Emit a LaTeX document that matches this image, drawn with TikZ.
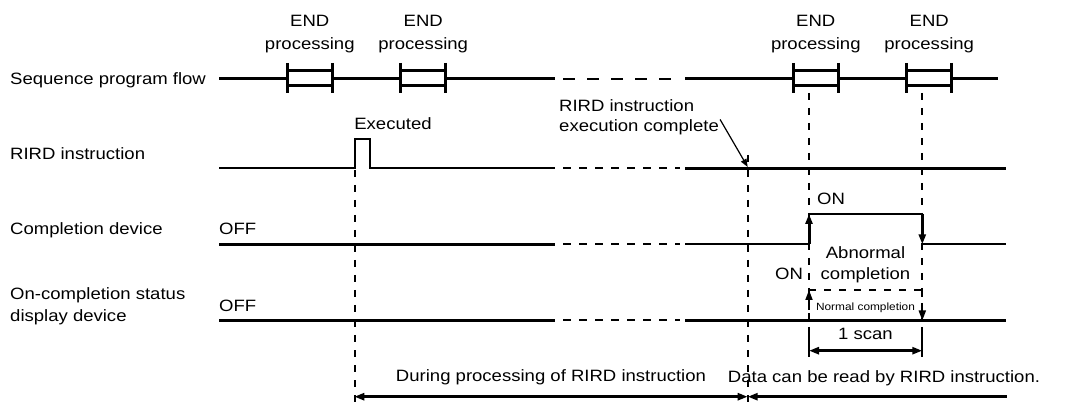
\documentclass[tikz,border=0pt]{standalone}
\usepackage{fontspec}
\setmainfont[FakeStretch=1.13]{Liberation Sans}
\usetikzlibrary{arrows.meta}
\tikzset{sig/.style={line width=3pt},
thinsig/.style={line width=2pt},
gapline/.style={line width=2pt,dash pattern=on 8pt off 8pt},
flowgap/.style={line width=2.5pt,dash pattern=on 12pt off 12pt},
guide/.style={line width=1.8pt,dash pattern=on 7pt off 8pt},
lbl/.style={inner sep=0pt,font=\fontsize{16.4}{21.7}\selectfont},
smalllbl/.style={inner sep=0pt,font=\fontsize{10.5}{12}\selectfont}}
\newcommand{\procblock}[2]{% left edge, name of its label
  \fill[white] (#1,70.7) rectangle (#1+45,86);
  \draw[sig] (#1,70.7) -- (#1+45,70.7) (#1,86) -- (#1+45,86);
  \draw[sig] (#1,63) -- (#1,93) (#1+45,63) -- (#1+45,93);
  \node[lbl,align=center,anchor=base] (#2) at (#1+22.5,50) {END\\[1.3pt]processing};
}

\begin{document}
\begin{tikzpicture}[x=1pt,y=-1pt,>={Triangle[length=10pt,width=7pt]}]
\useasboundingbox (0,0) rectangle (1087,403);
% row names
\node[lbl,anchor=base west] (seqlbl) at (10,85) {Sequence program flow};
\node[lbl,anchor=base west] (rirdlbl) at (10,160) {RIRD instruction};
\node[lbl,anchor=base west] (cmplbl) at (10,235) {Completion device};
\node[lbl,anchor=base west,align=left] (statlbl) at (10,321.7) {On-completion status\\display device};
\node[lbl,anchor=base west] (offA) at (219,235) {OFF};
\node[lbl,anchor=base west] (offB) at (219,312) {OFF};
% guides
\draw[guide] (355,170) -- (355,402);
\draw[guide] (747.7,155) -- (747.7,402);
\draw[guide] (809,93) -- (809,320);
\draw[guide] (922.3,93) -- (922.3,320);
% sequence program flow
\draw[sig] (219,79) -- (555,79) (685,79) -- (997.7,79);
\draw[flowgap] (563,79) -- (680,79);
\procblock{287.3}{endA}
\procblock{400.7}{endB}
\procblock{793.3}{endC}
\procblock{906.7}{endD}
% RIRD instruction
\draw[thinsig] (219,168.3) -- (355,168.3) -- (355,139) -- (370,139) -- (370,168.3) -- (555,168.3);
\draw[gapline] (563,168.3) -- (680,168.3);
\draw[sig] (685,168.3) -- (1006,168.3);
\node[lbl,anchor=base] (exec) at (393,130) {Executed};
\node[lbl,anchor=base west,align=left] (cmptxt) at (559,131.7) {RIRD instruction\\[-1.7pt]execution complete};
\coordinate (rdone) at (747.7,167);
\draw[line width=1.2pt,->,>={Triangle[length=8pt,width=6pt]}] ([xshift=1pt,yshift=-2pt]cmptxt.east) -- (rdone);
% completion device
\draw[sig] (219,244.3) -- (555,244.3);
\draw[gapline] (563,244.3) -- (680,244.3);
\draw[thinsig] (685,244.3) -- (809,244.3) (809,214) -- (922.3,214) (922.3,244.3) -- (1006,244.3);
\draw[sig,->] (809,244.3) -- (809,214);
\draw[sig,->] (922.3,214) -- (922.3,244.3);
\node[lbl,anchor=base west] (onA) at (817,205) {ON};
\node[lbl,anchor=base,align=center] (abn) at (865.5,280) {Abnormal\\completion};
% on-completion status display device
\draw[sig] (219,320.5) -- (555,320.5) (685,320.5) -- (1006,320.5);
\draw[gapline] (563,320.5) -- (680,320.5);
\draw[guide,->] (809,320.5) -- (809,290);
\draw[guide] (809,290) -- (922.3,290);
\draw[guide,->] (922.3,290) -- (922.3,320.5);
\node[lbl,anchor=base west] (onB) at (775,280) {ON};
\node[smalllbl,anchor=base] (norm) at (865.5,310.7) {Normal completion};
% 1 scan
\draw[thinsig] (809,327) -- (809,357) (922.3,327) -- (922.3,357);
\coordinate (scanA) at (809,350.7);
\coordinate (scanB) at (922.3,350.7);
\draw[line width=2.5pt,<->] (scanA) -- (scanB);
\node[lbl,anchor=base] (scan) at (865.5,339) {1 scan};
% processing span
\coordinate (procA) at (354.3,396.7);
\coordinate (procB) at (747.7,396.7);
\coordinate (readB) at (1006.5,396.7);
\draw[line width=2.5pt,<->] (procA) -- (procB);
\draw[line width=2.5pt,<-] (procB) -- (readB);
\node[lbl,anchor=base] (during) at (551,381.7) {During processing of RIRD instruction};
\node[lbl,anchor=base] (readok) at (884,382.7) {Data can be read by RIRD instruction.};
\end{tikzpicture}
\end{document}
